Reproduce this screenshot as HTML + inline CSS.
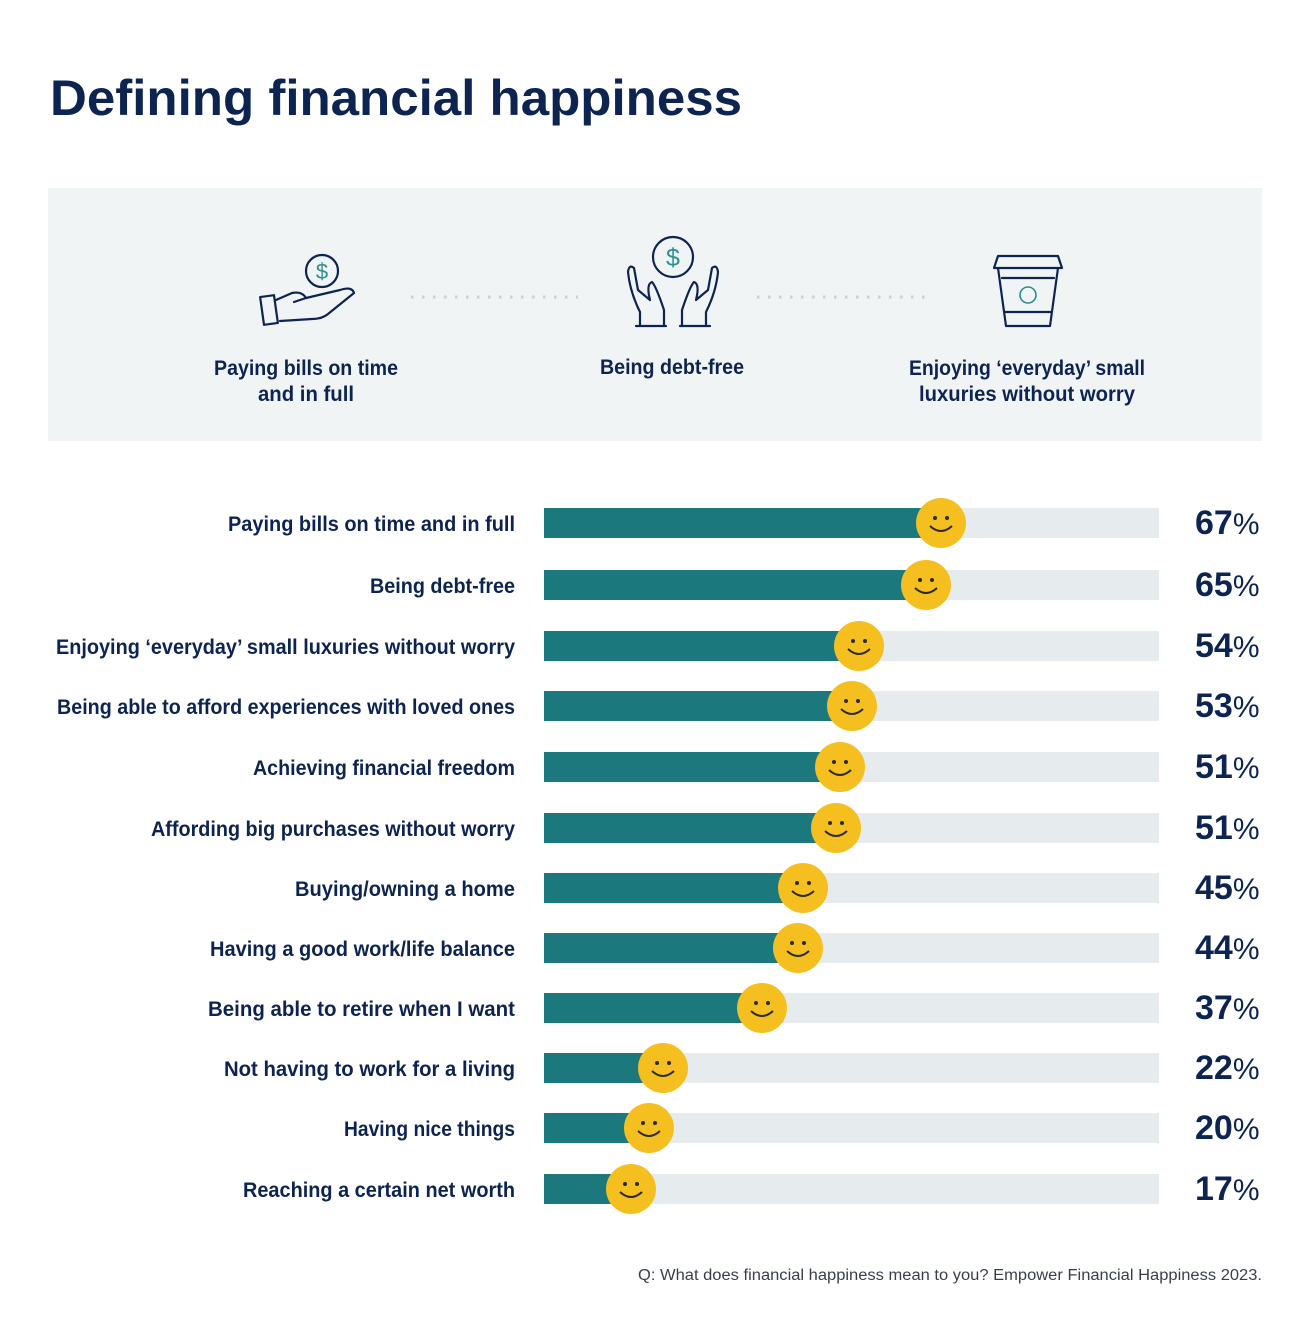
<!DOCTYPE html>
<html><head><meta charset="utf-8"><style>
body{margin:0;background:#fff;}
svg{display:block;font-family:"Liberation Sans",sans-serif;}
</style></head><body>
<svg width="1313" height="1337" viewBox="0 0 1313 1337">
<rect width="1313" height="1337" fill="#fff"/>
<text x="50" y="115" font-size="50" font-weight="bold" fill="#0d2451" textLength="692" lengthAdjust="spacingAndGlyphs">Defining financial happiness</text>
<rect x="48" y="188" width="1214" height="253" fill="#f1f4f5"/>
<g stroke="#0d2451" stroke-width="2.2" fill="none" stroke-linecap="round" stroke-linejoin="round">
 <!-- hand 1 -->
 <rect x="262" y="296" width="14" height="28" transform="rotate(-8 269 310)"/>
 <path d="M276 300 L292 293 Q302 291 306 298 L294 302 M306 298 L340 290 Q352 286 354 293 L328 314 Q322 319 312 319 L280 321"/>
 <circle cx="322" cy="271" r="16"/>
 <!-- hands 2 -->
 <path d="M640 326 L640 312 Q630 292 628 272 Q629 264 634 268 L638 290 L650 300 Q646 284 652 282 Q656 286 664 310 L664 326"/>
 <path d="M706 326 L706 312 Q716 292 718 272 Q717 264 712 268 L708 290 L696 300 Q700 284 694 282 Q690 286 682 310 L682 326"/>
 <path d="M636 326 L666 326 M680 326 L710 326"/>
 <circle cx="673" cy="257" r="20"/>
 <!-- cup -->
 <path d="M998 256 L1058 256 L1062 268 L994 268 Z M998 268 L1006 326 L1050 326 L1058 268 M1002 278 L1054 278 M1005 312 L1051 312"/>
</g>
<g stroke="#2f8f8f" stroke-width="1.6" fill="none">
 <text x="322" y="279" font-size="22" fill="#2f8f8f" stroke="none" text-anchor="middle">$</text>
 <text x="673" y="266" font-size="25" fill="#2f8f8f" stroke="none" text-anchor="middle">$</text>
 <circle cx="1028" cy="295" r="8"/>
</g>
<line x1="411" y1="297" x2="578" y2="297" stroke="#c9d0d6" stroke-width="3" stroke-dasharray="2.5 8.5"/>
<line x1="757" y1="297" x2="925" y2="297" stroke="#c9d0d6" stroke-width="3" stroke-dasharray="2.5 8.5"/>
<g font-size="21" font-weight="bold" fill="#0d2451" text-anchor="middle">
 <text x="306" y="375" textLength="184" lengthAdjust="spacingAndGlyphs">Paying bills on time</text>
 <text x="306" y="401" textLength="96" lengthAdjust="spacingAndGlyphs">and in full</text>
 <text x="672" y="374" textLength="144" lengthAdjust="spacingAndGlyphs">Being debt-free</text>
 <text x="1027" y="375" textLength="236" lengthAdjust="spacingAndGlyphs">Enjoying ‘everyday’ small</text>
 <text x="1027" y="401" textLength="216" lengthAdjust="spacingAndGlyphs">luxuries without worry</text>
</g>
<g id="rows" font-weight="bold" fill="#0d2451"></g>
<text x="1262" y="1280" font-size="15.5" fill="#3a3f47" text-anchor="end" textLength="624" lengthAdjust="spacingAndGlyphs">Q: What does financial happiness mean to you? Empower Financial Happiness 2023.</text>
</svg>
<script>
var d=[["Paying bills on time and in full",287,523,941,"67"],["Being debt-free",145,585,926,"65"],["Enjoying ‘everyday’ small luxuries without worry",459,646,859,"54"],["Being able to afford experiences with loved ones",458,706,852,"53"],["Achieving financial freedom",262,767,840,"51"],["Affording big purchases without worry",364,828,836,"51"],["Buying/owning a home",220,888,803,"45"],["Having a good work/life balance",305,948,798,"44"],["Being able to retire when I want",307,1008,762,"37"],["Not having to work for a living",291,1068,663,"22"],["Having nice things",171,1128,649,"20"],["Reaching a certain net worth",272,1189,631,"17"]];
var g=document.getElementById("rows"),s="";
d.forEach(function(r){var y=r[2],x=r[3];
s+='<rect x="544" y="'+(y-15)+'" width="615" height="30" fill="#e6ebee"/>';
s+='<rect x="544" y="'+(y-15)+'" width="'+(x-544)+'" height="30" fill="#1b787c"/>';
s+='<circle cx="'+x+'" cy="'+y+'" r="25" fill="#f5bf1f"/>';
s+='<circle cx="'+(x-6)+'" cy="'+(y-5)+'" r="2" fill="#2a2a2a"/><circle cx="'+(x+6)+'" cy="'+(y-5)+'" r="2" fill="#2a2a2a"/>';
s+='<path d="M'+(x-11)+' '+(y+3)+' Q'+x+' '+(y+13)+' '+(x+11)+' '+(y+3)+'" stroke="#2a2a2a" stroke-width="2" fill="none"/>';
s+='<text x="515" y="'+(y+8)+'" font-size="21" text-anchor="end" textLength="'+r[1]+'" lengthAdjust="spacingAndGlyphs">'+r[0]+'</text>';
s+='<text x="1195" y="'+(y+11)+'" font-size="34" font-weight="900">'+r[4]+'<tspan font-weight="normal" font-size="30">%</tspan></text>';
});
g.innerHTML=s;
</script>
</body></html>
